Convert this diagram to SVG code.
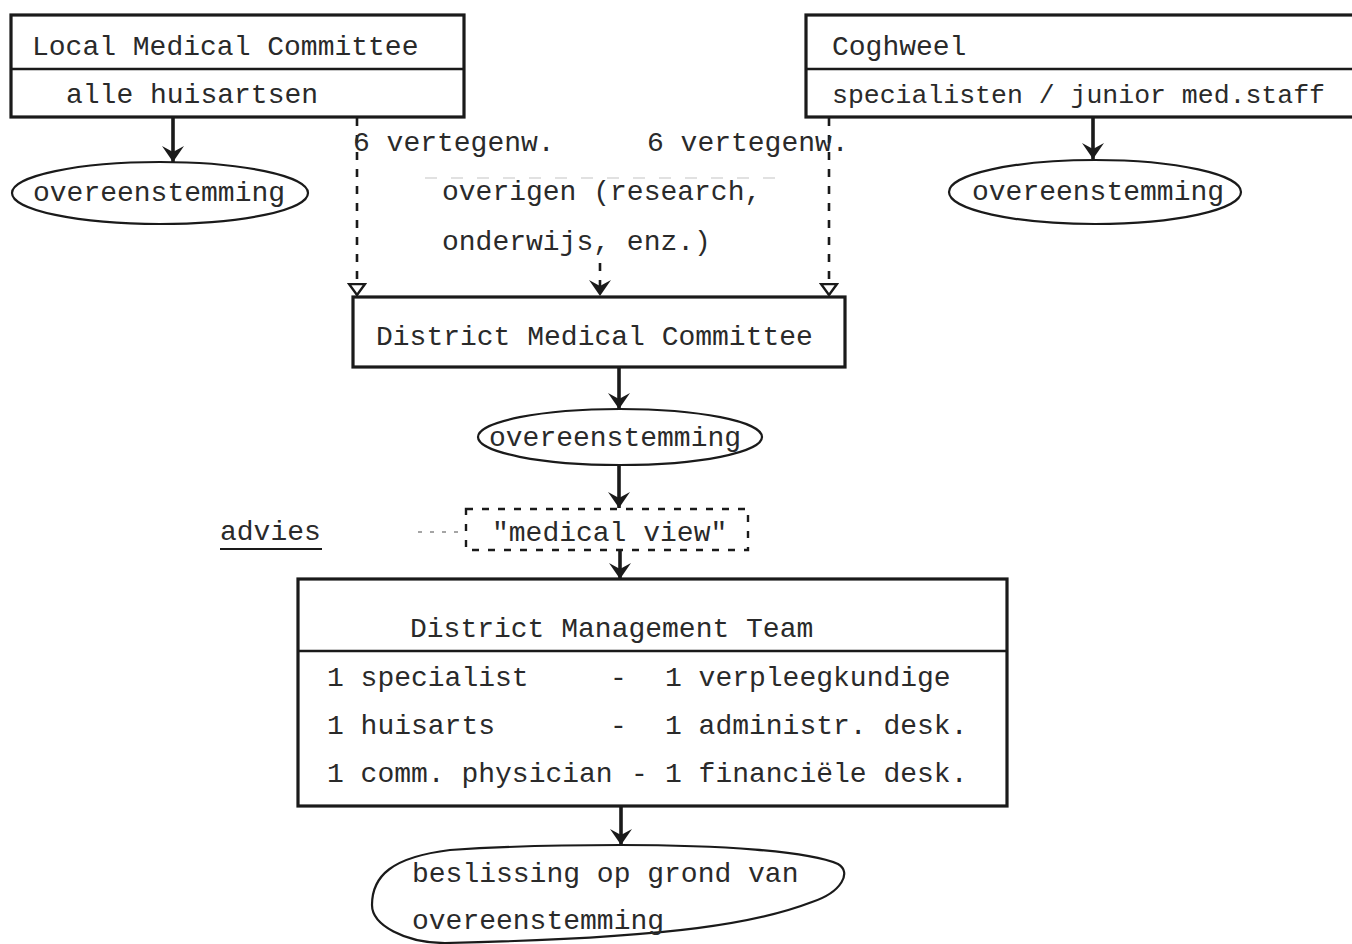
<svg xmlns="http://www.w3.org/2000/svg" width="1352" height="944" viewBox="0 0 1352 944">
<style>
.t{font-family:"Liberation Mono","DejaVu Sans Mono",monospace;font-size:28px;fill:#2a2a2a}
.box{fill:none;stroke:#1a1a1a;stroke-width:3.2}
.div{stroke:#1a1a1a;stroke-width:2.6}
.ell{fill:none;stroke:#1a1a1a;stroke-width:2.2}
.arr{stroke:#1a1a1a;stroke-width:3.6;fill:none}
.dash{stroke:#1a1a1a;stroke-width:2.6;stroke-dasharray:8 9;fill:none}
.dbox{fill:none;stroke:#1a1a1a;stroke-width:2.4;stroke-dasharray:7 9}
</style>
<defs>
<marker id="ah" markerUnits="userSpaceOnUse" markerWidth="20" markerHeight="24" refX="16" refY="12" orient="auto">
<path d="M0,1 L16,12 L0,23 L6,12 Z" fill="#1a1a1a"/>
</marker>
<marker id="tri" markerUnits="userSpaceOnUse" markerWidth="16" markerHeight="20" refX="12" refY="10" orient="auto">
<path d="M1,2 L12,10 L1,18 Z" fill="#fff" stroke="#1a1a1a" stroke-width="2.4"/>
</marker>
</defs>
<rect width="1352" height="944" fill="#fff"/>

<g id="connectors">
<line class="arr" x1="173" y1="118" x2="173" y2="162" marker-end="url(#ah)"/>
<line class="arr" x1="1093" y1="118" x2="1093" y2="159" marker-end="url(#ah)"/>
<line class="dash" x1="357" y1="118" x2="357" y2="295" marker-end="url(#tri)"/>
<line class="dash" x1="829" y1="118" x2="829" y2="295" marker-end="url(#tri)"/>
<line class="dash" x1="600" y1="263" x2="600" y2="296" marker-end="url(#ah)"/>
<line class="arr" x1="619" y1="367" x2="619" y2="409" marker-end="url(#ah)"/>
<line class="arr" x1="619" y1="465" x2="619" y2="508" marker-end="url(#ah)"/>
<line class="arr" x1="620" y1="550" x2="620" y2="579" marker-end="url(#ah)"/>
<line class="arr" x1="621" y1="806" x2="621" y2="845" marker-end="url(#ah)"/>
<line x1="418" y1="532" x2="464" y2="532" stroke="#888" stroke-width="1.6" stroke-dasharray="4 8"/>
<line x1="425" y1="178" x2="780" y2="178" stroke="#c4c4c4" stroke-width="1.2" stroke-dasharray="12 14"/>
</g>

<g id="lmc">
<rect class="box" x="11" y="15" width="453" height="102"/>
<line class="div" x1="11" y1="69" x2="464" y2="69"/>
<text class="t" x="32" y="55">Local Medical Committee</text>
<text class="t" x="66" y="103">alle huisartsen</text>
</g>

<g id="coghweel">
<rect class="box" x="806" y="15" width="570" height="102"/>
<line class="div" x1="806" y1="69" x2="1376" y2="69"/>
<text class="t" x="832" y="55">Coghweel</text>
<text class="t" x="832" y="103" style="font-size:26.5px">specialisten / junior med.staff</text>
</g>

<g id="ov-left">
<ellipse class="ell" cx="160" cy="193" rx="148" ry="31"/>
<text class="t" x="33" y="201">overeenstemming</text>
</g>

<g id="ov-right">
<ellipse class="ell" cx="1095" cy="192" rx="146" ry="32"/>
<text class="t" x="972" y="200">overeenstemming</text>
</g>

<g id="labels">
<text class="t" x="353" y="151">6 vertegenw.</text>
<text class="t" x="647" y="151">6 vertegenw.</text>
<text class="t" x="442" y="200">overigen (research,</text>
<text class="t" x="442" y="250">onderwijs, enz.)</text>
</g>

<g id="dmc">
<rect class="box" x="353" y="297" width="492" height="70"/>
<text class="t" x="376" y="345">District Medical Committee</text>
</g>

<g id="ov-mid">
<ellipse class="ell" cx="620" cy="437" rx="142" ry="28"/>
<text class="t" x="489" y="446">overeenstemming</text>
</g>

<g id="medview">
<rect class="dbox" x="466" y="509" width="282" height="41"/>
<text class="t" x="492" y="541">"medical view"</text>
</g>

<g id="advies">
<text class="t" x="220" y="540">advies</text>
<line x1="220" y1="549" x2="322" y2="549" stroke="#1a1a1a" stroke-width="2"/>
</g>

<g id="dmt">
<rect class="box" x="298" y="579" width="709" height="227"/>
<line class="div" x1="298" y1="651" x2="1007" y2="651"/>
<text class="t" x="410" y="637">District Management Team</text>
<text class="t" x="327" y="686">1 specialist</text>
<text class="t" x="610" y="686">-</text>
<text class="t" x="665" y="686">1 verpleegkundige</text>
<text class="t" x="327" y="734">1 huisarts</text>
<text class="t" x="610" y="734">-</text>
<text class="t" x="665" y="734">1 administr. desk.</text>
<text class="t" x="327" y="782">1 comm. physician</text>
<text class="t" x="631" y="782">-</text>
<text class="t" x="665" y="782">1 financiële desk.</text>
</g>

<g id="besl">
<path class="ell" d="M620,845 C720,845 808,851 838,864 C852,872 842,892 812,902 C760,922 680,938 445,943 C405,943 372,925 372,905 C372,876 392,857 450,850 C510,846 560,845 620,845 Z"/>
<text class="t" x="412" y="882">beslissing op grond van</text>
<text class="t" x="412" y="929">overeenstemming</text>
</g>
</svg>
